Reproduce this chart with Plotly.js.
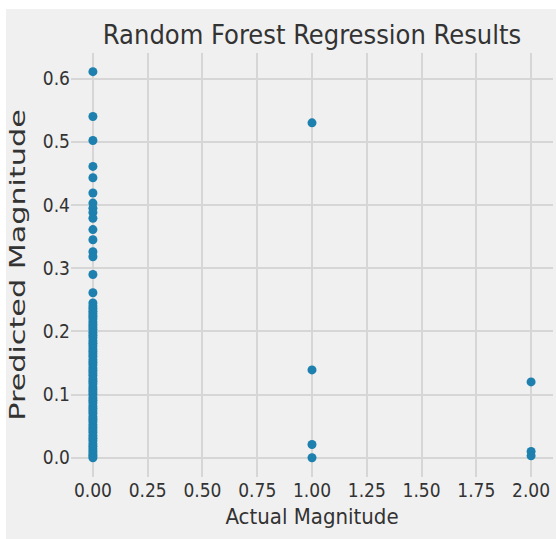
<!DOCTYPE html>
<html><head><meta charset="utf-8">
<script src="https://cdn.plot.ly/plotly-3.0.1.min.js"></script>
<style>html,body{margin:0;padding:0;background:#fff;}#chart{position:absolute;left:6px;top:9px;width:550px;height:530px;}</style>
</head><body><div id="chart"></div><script>
const actualLevels = [0, 1, 2];
const predAtZero = [0.611, 0.540, 0.502, 0.461, 0.443, 0.419, 0.403, 0.395, 0.388, 0.379, 0.361, 0.345, 0.326, 0.318, 0.290, 0.261, 0.245,
  0.240, 0.236, 0.232, 0.228, 0.224, 0.220, 0.215, 0.211, 0.207, 0.203, 0.198, 0.194, 0.190, 0.185, 0.181, 0.177, 0.172, 0.168, 0.164, 0.160,
  0.155, 0.151, 0.147, 0.142, 0.138, 0.134, 0.130, 0.125, 0.121, 0.117, 0.112, 0.108, 0.104, 0.100, 0.095, 0.091, 0.087, 0.082, 0.078, 0.074,
  0.070, 0.065, 0.061, 0.057, 0.052, 0.048, 0.044, 0.040, 0.035, 0.031, 0.027, 0.022, 0.018, 0.014, 0.010, 0.006, 0.003, 0.0];
const predAtOne = [0.530, 0.139, 0.021, 0.0];
const predAtTwo = [0.120, 0.010, 0.003];
const xTickVals = [0, 0.25, 0.5, 0.75, 1, 1.25, 1.5, 1.75, 2];
const xTickText = ['0.00', '0.25', '0.50', '0.75', '1.00', '1.25', '1.50', '1.75', '2.00'];
const yTickVals = [0, 0.1, 0.2, 0.3, 0.4, 0.5, 0.6];
const yTickText = ['0.0', '0.1', '0.2', '0.3', '0.4', '0.5', '0.6'];

const groups = [predAtZero, predAtOne, predAtTwo];
const xs = [], ys = [];
groups.forEach((g, i) => g.forEach(v => { xs.push(actualLevels[i]); ys.push(v); }));

const FONT = 'DejaVu Sans Condensed, DejaVu Sans, sans-serif';
const data = [{
  type: 'scatter', mode: 'markers', x: xs, y: ys,
  marker: {color: '#1d80ae', size: 9, line: {width: 0}},
  hoverinfo: 'x+y'
}];
const layout = {
  width: 550, height: 530,
  paper_bgcolor: '#f0f0f0', plot_bgcolor: '#f0f0f0',
  margin: {l: 65, r: 3, t: 44, b: 62},
  showlegend: false,
  font: {family: FONT, color: '#333'},
  title: {text: 'Random Forest Regression Results', font: {family: FONT, size: 27, color: '#333'},
          x: 0.5, xref: 'paper', xanchor: 'center', y: 0.951, yref: 'container', yanchor: 'middle'},
  xaxis: {range: [-0.1, 2.1], tickvals: xTickVals, ticktext: xTickText, showgrid: true, gridcolor: '#d6d6d6', gridwidth: 1.5,
          zeroline: false, showline: false, ticks: '', tickfont: {size: 19, color: '#333'},
          title: {text: 'Actual Magnitude', font: {size: 22, color: '#333'}, standoff: 8}},
  yaxis: {range: [-0.0305, 0.6405], tickvals: yTickVals, ticktext: yTickText, showgrid: true, gridcolor: '#d6d6d6', gridwidth: 1.5,
          zeroline: false, showline: false, ticks: '', tickfont: {size: 19, color: '#333'},
          title: {text: 'Predicted Magnitude', font: {family: 'DejaVu Sans, sans-serif', size: 21, color: '#333'}, standoff: 12}}
};
Plotly.newPlot('chart', data, layout, {displayModeBar: false, responsive: false}).then(gd => {
  const t = gd.querySelector('.ytitle');
  if (t) {
    const x = parseFloat(t.getAttribute('x')), y = parseFloat(t.getAttribute('y'));
    const tr = t.getAttribute('transform') || '';
    t.setAttribute('transform', tr + ' translate(' + x + ',' + y + ') scale(1.44,1) translate(' + (-x) + ',' + (-y) + ')');
  }
});
</script></body></html>
